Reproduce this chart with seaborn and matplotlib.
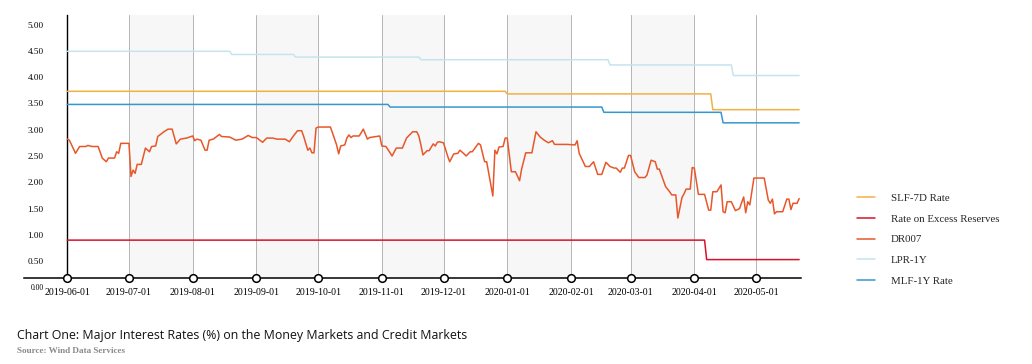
import matplotlib
matplotlib.use("Agg")
import matplotlib.dates as mdates
import matplotlib.pyplot as plt
import matplotlib.transforms as mtransforms
import numpy as np
import pandas as pd
import seaborn as sns

PLOT_OUT = "out.png"

MONTHS = [
    "2019-06-01", "2019-07-01", "2019-08-01", "2019-09-01", "2019-10-01", "2019-11-01",
    "2019-12-01", "2020-01-01", "2020-02-01", "2020-03-01", "2020-04-01", "2020-05-01",
]
SHADED_FROM = ["2019-07-01", "2019-09-01", "2019-11-01", "2020-01-01", "2020-03-01"]
SHADED_TO = ["2019-08-01", "2019-10-01", "2019-12-01", "2020-02-01", "2020-04-01"]

Y_TICKS = [0.0, 0.5, 1.0, 1.5, 2.0, 2.5, 3.0, 3.5, 4.0, 4.5, 5.0]
Y_TICK_LABELS = ["0.00", "0.50", "1.00", "1.50", "2.00", "2.50", "3.00", "3.50", "4.00", "4.50", "5.00"]

# step series (policy rates)
slf_dates = ["2019-06-01", "2019-12-31", "2020-01-01", "2020-04-09", "2020-04-10", "2020-05-22"]
slf_values = [3.55, 3.55, 3.50, 3.50, 3.20, 3.20]

excess_dates = ["2019-06-01", "2020-04-06", "2020-04-07", "2020-05-22"]
excess_values = [0.72, 0.72, 0.35, 0.35]

lpr_dates = ["2019-06-01", "2019-08-19", "2019-08-20", "2019-09-19", "2019-09-20", "2019-11-19",
             "2019-11-20", "2020-02-19", "2020-02-20", "2020-04-19", "2020-04-20", "2020-05-22"]
lpr_values = [4.31, 4.31, 4.25, 4.25, 4.20, 4.20, 4.15, 4.15, 4.05, 4.05, 3.85, 3.85]

mlf_dates = ["2019-06-01", "2019-11-04", "2019-11-05", "2020-02-16", "2020-02-17",
             "2020-04-14", "2020-04-15", "2020-05-22"]
mlf_values = [3.30, 3.30, 3.25, 3.25, 3.15, 3.15, 2.95, 2.95]

# DR007
dr007_dates = [
    "2019-06-01", "2019-06-02", "2019-06-05", "2019-06-07", "2019-06-10", "2019-06-11",
    "2019-06-13", "2019-06-16", "2019-06-18", "2019-06-20", "2019-06-21", "2019-06-24",
    "2019-06-25", "2019-06-26", "2019-06-27", "2019-07-01", "2019-07-02", "2019-07-03",
    "2019-07-04", "2019-07-05", "2019-07-07", "2019-07-09", "2019-07-11", "2019-07-12",
    "2019-07-14", "2019-07-15", "2019-07-18", "2019-07-20", "2019-07-22", "2019-07-24",
    "2019-07-26", "2019-07-29", "2019-08-01", "2019-08-02", "2019-08-03", "2019-08-05",
    "2019-08-07", "2019-08-08", "2019-08-09", "2019-08-11", "2019-08-14", "2019-08-15",
    "2019-08-19", "2019-08-22", "2019-08-25", "2019-08-28", "2019-08-30", "2019-09-01",
    "2019-09-04", "2019-09-06", "2019-09-09", "2019-09-11", "2019-09-15", "2019-09-17",
    "2019-09-19", "2019-09-21", "2019-09-23", "2019-09-24", "2019-09-26", "2019-09-27",
    "2019-09-28", "2019-09-29", "2019-09-30", "2019-10-01", "2019-10-07", "2019-10-09",
    "2019-10-10", "2019-10-11", "2019-10-12", "2019-10-14", "2019-10-15", "2019-10-16",
    "2019-10-17", "2019-10-18", "2019-10-21", "2019-10-23", "2019-10-25", "2019-10-26",
    "2019-10-31", "2019-11-01", "2019-11-03", "2019-11-06", "2019-11-08", "2019-11-11",
    "2019-11-13", "2019-11-16", "2019-11-18", "2019-11-19", "2019-11-20", "2019-11-21",
    "2019-11-23", "2019-11-24", "2019-11-26", "2019-11-27", "2019-11-28", "2019-11-29",
    "2019-11-30", "2019-12-01", "2019-12-03", "2019-12-04", "2019-12-06", "2019-12-08",
    "2019-12-09", "2019-12-11", "2019-12-12", "2019-12-14", "2019-12-15", "2019-12-18",
    "2019-12-19", "2019-12-21", "2019-12-22", "2019-12-25", "2019-12-26", "2019-12-27",
    "2019-12-28", "2019-12-30", "2019-12-31", "2020-01-01", "2020-01-03", "2020-01-05",
    "2020-01-07", "2020-01-08", "2020-01-10", "2020-01-13", "2020-01-15", "2020-01-17",
    "2020-01-19", "2020-01-21", "2020-01-23", "2020-01-24", "2020-01-30", "2020-02-03",
    "2020-02-04", "2020-02-05", "2020-02-08", "2020-02-10", "2020-02-12", "2020-02-14",
    "2020-02-16", "2020-02-18", "2020-02-20", "2020-02-22", "2020-02-23", "2020-02-25",
    "2020-02-26", "2020-02-27", "2020-02-29", "2020-03-01", "2020-03-03", "2020-03-05",
    "2020-03-08", "2020-03-09", "2020-03-11", "2020-03-13", "2020-03-14", "2020-03-15",
    "2020-03-18", "2020-03-20", "2020-03-21", "2020-03-23", "2020-03-24", "2020-03-26",
    "2020-03-27", "2020-03-28", "2020-03-30", "2020-03-31", "2020-04-01", "2020-04-03",
    "2020-04-06", "2020-04-08", "2020-04-09", "2020-04-10", "2020-04-12", "2020-04-14",
    "2020-04-15", "2020-04-16", "2020-04-17", "2020-04-19", "2020-04-21", "2020-04-23",
    "2020-04-25", "2020-04-26", "2020-04-27", "2020-04-28", "2020-04-30", "2020-05-05",
    "2020-05-07", "2020-05-08", "2020-05-09", "2020-05-10", "2020-05-11", "2020-05-14",
    "2020-05-16", "2020-05-17", "2020-05-18", "2020-05-19", "2020-05-21", "2020-05-22",
]
dr007_values = [
    2.64, 2.62, 2.37, 2.50, 2.50, 2.52,
    2.50, 2.50, 2.28, 2.21, 2.28, 2.28,
    2.40, 2.37, 2.56, 2.56, 1.93, 2.05,
    1.99, 2.16, 2.16, 2.47, 2.40, 2.50,
    2.51, 2.69, 2.78, 2.83, 2.83, 2.55,
    2.64, 2.66, 2.70, 2.61, 2.64, 2.62,
    2.43, 2.43, 2.62, 2.64, 2.73, 2.69,
    2.68, 2.62, 2.64, 2.71, 2.67, 2.67,
    2.58, 2.66, 2.66, 2.64, 2.64, 2.59,
    2.70, 2.80, 2.80, 2.69, 2.43, 2.47,
    2.38, 2.38, 2.85, 2.87, 2.87, 2.64,
    2.53, 2.36, 2.51, 2.53, 2.66, 2.72,
    2.67, 2.70, 2.70, 2.83, 2.64, 2.67,
    2.70, 2.51, 2.50, 2.32, 2.47, 2.47,
    2.66, 2.78, 2.78, 2.70, 2.53, 2.34,
    2.42, 2.42, 2.55, 2.51, 2.58, 2.59,
    2.58, 2.57, 2.32, 2.21, 2.36, 2.37,
    2.43, 2.36, 2.32, 2.40, 2.40, 2.56,
    2.53, 2.21, 2.21, 1.56, 2.43, 2.36,
    2.49, 2.50, 2.66, 2.66, 2.02, 2.02,
    1.85, 2.07, 2.38, 2.38, 2.78, 2.68,
    2.62, 2.57, 2.61, 2.54, 2.54, 2.53,
    2.61, 2.37, 2.12, 2.12, 2.21, 1.97,
    1.97, 2.20, 2.12, 2.09, 2.09, 2.01,
    2.09, 2.09, 2.33, 2.33, 2.02, 1.91,
    1.91, 1.96, 2.24, 2.21, 2.07, 2.07,
    1.74, 1.64, 1.58, 1.58, 1.14, 1.53,
    1.60, 1.69, 1.69, 2.10, 2.09, 1.59,
    1.59, 1.29, 1.29, 1.64, 1.64, 1.77,
    1.26, 1.24, 1.45, 1.45, 1.28, 1.32,
    1.54, 1.24, 1.45, 1.39, 1.90, 1.90,
    1.48, 1.42, 1.50, 1.22, 1.26, 1.26,
    1.50, 1.50, 1.30, 1.42, 1.42, 1.51,
]

SERIES = [
    ("LPR-1Y", lpr_dates, lpr_values, "#c6e3ee"),
    ("SLF-7D Rate", slf_dates, slf_values, "#f2b045"),
    ("MLF-1Y Rate", mlf_dates, mlf_values, "#3597ce"),
    ("Rate on Excess Reserves", excess_dates, excess_values, "#d6122c"),
    ("DR007", dr007_dates, dr007_values, "#e8572a"),
]
LEGEND_ORDER = ["SLF-7D Rate", "Rate on Excess Reserves", "DR007", "LPR-1Y", "MLF-1Y Rate"]

TITLE = "Chart One: Major Interest Rates (%) on the Money Markets and Credit Markets"
SOURCE = "Source: Wind Data Services"


def main():
    sns.set_style("white")
    plt.rcParams["font.family"] = ["Liberation Serif", "DejaVu Sans"]

    W, H = 1032, 364
    fig = plt.figure(figsize=(W / 100, H / 100), dpi=100)
    ax = fig.add_axes([24 / W, 1 - 278 / H, (801 - 24) / W, (278 - 15) / H])

    start = mdates.date2num(pd.Timestamp(MONTHS[0]))
    ax.set_xlim(start - 21.06, start + 356.9)
    ax.set_ylim(0, 5)

    for a, b in zip(SHADED_FROM, SHADED_TO):
        ax.axvspan(pd.Timestamp(a), pd.Timestamp(b), color="#f7f7f7", lw=0, zorder=0)

    month_ts = pd.to_datetime(MONTHS)
    ax.set_xticks(month_ts, MONTHS)
    ax.grid(axis="x", color="#b4b4b4", lw=0.7)
    ax.grid(axis="y", visible=False)
    ax.set_axisbelow(True)

    for name, dates, values, color in SERIES:
        sns.lineplot(x=pd.to_datetime(dates), y=values, ax=ax, color=color,
                     linewidth=1.1, label=name, zorder=3)

    ax.plot(month_ts, np.zeros(len(month_ts)), "o", ms=5.5, mfc="white", mec="black",
            mew=1.1, clip_on=False, zorder=6)

    for side in ["top", "right"]:
        ax.spines[side].set_visible(False)
    ax.spines["left"].set_position(("data", start))
    ax.spines["left"].set_color("black")
    ax.spines["left"].set_linewidth(1.0)
    ax.spines["bottom"].set_color("black")
    ax.spines["bottom"].set_linewidth(1.1)

    ax.tick_params(axis="x", length=0, pad=7, labelsize=7.1, colors="black")
    ax.set_yticks(Y_TICKS, Y_TICK_LABELS)
    ax.tick_params(axis="y", length=0, pad=17, labelsize=6.6, colors="black")
    shift = mtransforms.ScaledTranslation(0, -0.095, fig.dpi_scale_trans)
    for lbl in ax.get_yticklabels():
        lbl.set_transform(lbl.get_transform() + shift)
        if lbl.get_text() == "0.00":
            lbl.set_fontsize(5.5)
    ax.set_xlabel("")
    ax.set_ylabel("")

    handles, labels = ax.get_legend_handles_labels()
    lookup = dict(zip(labels, handles))
    ax.get_legend().remove()
    fig.legend([lookup[k] for k in LEGEND_ORDER], LEGEND_ORDER, loc="upper left",
               bbox_to_anchor=(857 / W, 1 - 193.5 / H), frameon=False,
               prop={"family": "Liberation Serif", "size": 7.8}, handlelength=1.7,
               handletextpad=1.4, labelspacing=1.02, borderpad=0, borderaxespad=0)

    fig.text(17 / W, 1 - 335 / H, TITLE, family="Open Sans", fontsize=8.9,
             va="center", ha="left", color="#111111")
    fig.text(17 / W, 1 - 351 / H, SOURCE, family="Liberation Serif", fontweight="bold",
             fontsize=6.6, va="center", ha="left", color="#8a8a8a")

    fig.savefig(PLOT_OUT, dpi=100)
    plt.close(fig)


if __name__ == "__main__":
    main()
